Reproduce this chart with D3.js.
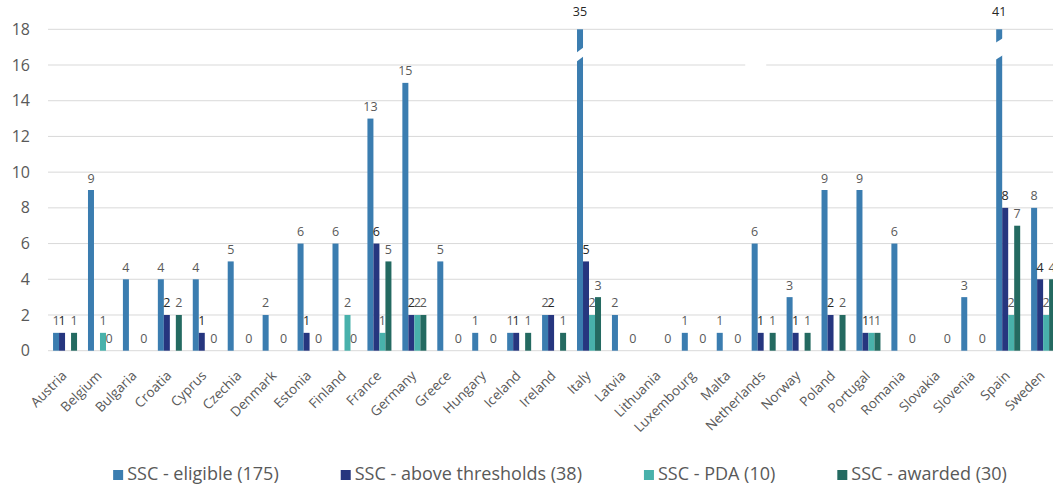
<!DOCTYPE html>
<html>
<head>
<meta charset="utf-8">
<script src="https://cdn.jsdelivr.net/npm/d3@7/dist/d3.min.js"></script>
<style>
  html, body { margin: 0; padding: 0; background: #fff; }
  svg { display: block; }
  text { font-family: "Open Sans", "DejaVu Sans", sans-serif; }
</style>
</head>
<body>
<svg id="chart" width="1053" height="487"></svg>
<script>
const categories = ["Austria","Belgium","Bulgaria","Croatia","Cyprus","Czechia","Denmark","Estonia","Finland","France","Germany","Greece","Hungary","Iceland","Ireland","Italy","Latvia","Lithuania","Luxembourg","Malta","Netherlands","Norway","Poland","Portugal","Romania","Slovakia","Slovenia","Spain","Sweden"];
const eligible = [1,9,4,4,4,5,2,6,6,13,15,5,1,1,2,35,2,null,1,1,6,3,9,9,6,null,3,41,8];
const aboveThresholds = [1,null,null,2,1,null,null,1,null,6,2,null,null,1,2,5,null,null,null,null,1,1,2,1,null,null,null,8,4];
const pda = [null,1,null,null,null,null,null,null,2,1,2,null,null,null,null,2,null,null,null,null,null,null,null,1,null,null,null,2,2];
const awarded = [1,0,0,2,0,0,0,0,0,5,2,0,0,1,1,3,0,0,0,0,1,1,2,1,0,0,0,7,4];
const seriesNames = ["SSC - eligible (175)","SSC - above thresholds (38)","SSC - PDA (10)","SSC - awarded (30)"];
const seriesColors = ["#3b7db0","#26367f","#48b1ab","#246a61"];
const yTicks = [0,2,4,6,8,10,12,14,16,18];
const yMax = 18;

const series = [eligible, aboveThresholds, pda, awarded];
const svg = d3.select("#chart");
const W = 1053;

const x0 = d3.scaleBand().domain(categories).range([47.6, 1060.6]).paddingInner(0).paddingOuter(0);
const x1 = d3.scaleBand().domain(d3.range(4)).range([5.45, 29.45]).padding(0);
const y = d3.scaleLinear().domain([0, yMax]).range([350.7, 29.3]);

// gridlines
svg.append("g").selectAll("line").data(yTicks).join("line")
  .attr("x1", 48).attr("x2", W)
  .attr("y1", d => y(d)).attr("y2", d => y(d))
  .attr("stroke", "#d9d9d9").attr("stroke-width", 1);

// y axis labels
const yAxis = d3.axisLeft(y).tickValues(yTicks).tickSize(0).tickPadding(0);
const yg = svg.append("g").attr("transform", "translate(30,0)").call(yAxis);
yg.select(".domain").remove();
yg.selectAll("text").attr("font-size", 16).attr("fill", "#595959")
  .style("font-family", "'Open Sans', sans-serif");

// bars
const rows = [];
categories.forEach((c, i) => {
  series.forEach((s, j) => {
    if (s[i] !== null && s[i] !== undefined) rows.push({c, j, v: s[i]});
  });
});

const gBars = svg.append("g");
gBars.selectAll("rect").data(rows.filter(d => d.v > 0)).join("rect")
  .attr("x", d => x0(d.c) + x1(d.j))
  .attr("width", x1.bandwidth())
  .attr("y", d => y(Math.min(d.v, yMax)))
  .attr("height", d => y(0) - y(Math.min(d.v, yMax)))
  .attr("fill", d => seriesColors[d.j]);

// break marks for values above the axis maximum
const broken = rows.filter(d => d.v > yMax);
gBars.selectAll("polygon.brk").data(broken).join("polygon")
  .attr("class", "brk")
  .attr("fill", "#fff")
  .attr("points", d => {
    const xa = x0(d.c) + x1(d.j) - 1, xb = xa + x1.bandwidth() + 2;
    const big = d.v > 40;
    const topL = big ? 43 : 53, topR = big ? 38 : 47;
    const gap = big ? 17 : 9;
    return [[xa, topL], [xb, topR], [xb, topR + gap], [xa, topL + gap]].map(p => p.join(",")).join(" ");
  });

// small stray white patch over a gridline (as in the reference)
svg.append("rect")
  .attr("x", x0("Netherlands") - 1).attr("width", 21)
  .attr("y", y(16) - 2).attr("height", 4).attr("fill", "#fff");

// data labels
svg.append("g").selectAll("text").data(rows).join("text")
  .attr("x", d => x0(d.c) + x1(d.j) + x1.bandwidth() / 2)
  .attr("y", d => d.v > yMax ? 15.5 : y(d.v) - 7.5)
  .attr("text-anchor", "middle")
  .attr("font-size", 12.5)
  .attr("fill", d => (d.j === 1 || d.v > yMax) ? "#262626" : "#595959")
  .text(d => d.v);

// category labels
const xAxis = d3.axisBottom(x0).tickSize(0).tickPadding(0);
const xg = svg.append("g").call(xAxis);
xg.select(".domain").remove();
xg.selectAll(".tick").attr("transform", d => `translate(${x0(d) + x0.bandwidth()/2},0)`);
xg.selectAll("text")
  .attr("font-size", 13.5).attr("fill", "#595959")
  .style("font-family", "'Open Sans', sans-serif")
  .attr("text-anchor", "end")
  .attr("dy", null).attr("y", null)
  .attr("transform", "translate(0,374) rotate(-45)")
  .attr("dominant-baseline", "middle");

// legend
const legend = svg.append("g");
const items = legend.selectAll("g").data(seriesNames).join("g");
items.append("rect").attr("width", 10).attr("height", 10).attr("y", -5)
  .attr("fill", (d, i) => seriesColors[i]);
items.append("text").attr("x", 14).attr("y", 0).attr("dominant-baseline", "middle")
  .attr("font-size", 18).attr("fill", "#595959").text(d => d);
const gapL = 62;
let widths = [];
items.each(function() { widths.push(this.getBBox().width); });
const total = d3.sum(widths) + gapL * (widths.length - 1);
let cx = 560 - total / 2;
items.each(function(d, i) {
  d3.select(this).attr("transform", `translate(${cx},475)`);
  cx += widths[i] + gapL;
});
</script>
</body>
</html>
